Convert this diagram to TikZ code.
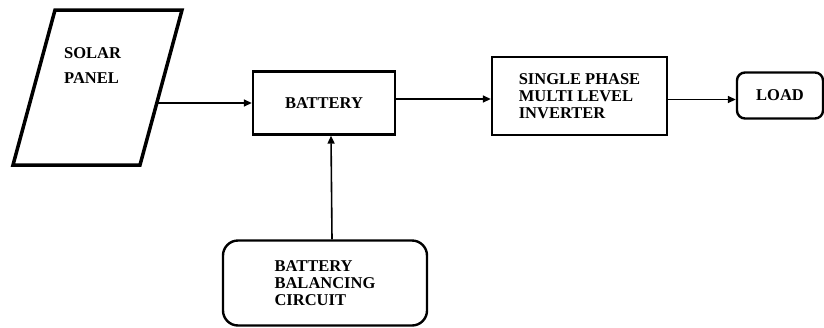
\documentclass[tikz,border=0pt]{standalone}
\usepackage{fontspec}
\setmainfont{Liberation Serif}
\usetikzlibrary{arrows.meta}

\tikzset{
  block/.style={draw, rectangle, line width=2.4pt, align=left, inner sep=0pt},
  roundblock/.style={block, rounded corners=12pt},
  link/.style={line width=1.6pt, -{Triangle[length=8pt, width=7pt]}},
}

\begin{document}
\begin{tikzpicture}[x=1pt, y=-1pt, font=\bfseries\fontsize{16.5}{17}\selectfont]
    \useasboundingbox (0,0) rectangle (824,327);

    % solar panel drawn as a parallelogram
    \draw[line width=3.5pt] (55,10) -- (182,10) -- (140,165) -- (13,165) -- cycle;
    \node[anchor=north west, align=left, inner sep=0pt] (S) at (64,47) {SOLAR\\[8pt]PANEL};
    \coordinate (Sout) at (157,103);

    \node[block, minimum width=142, minimum height=63] (B) at (324,103) {BATTERY};
    \node[block, minimum width=175, minimum height=78] (I) at (579.5,96) {SINGLE PHASE\\MULTI LEVEL\\INVERTER};
    \node[roundblock, rounded corners=8pt, minimum width=86, minimum height=46] (L) at (780,95.5) {LOAD};
    \node[roundblock, rounded corners=15pt, minimum width=204, minimum height=85] (C) at (325,283) {BATTERY\\BALANCING\\CIRCUIT};

    \draw[link] (Sout) -- (Sout -| B.west);
    \draw[link] ([yshift=4pt]B.east) -- ([yshift=4pt]B.east -| I.west);
    \draw[link] ([yshift=-3.5pt]I.east) -- ([yshift=-3.5pt]I.east -| L.west);
    \draw[link] ([xshift=7pt]C.north) -- ([xshift=7pt]B.south);
\end{tikzpicture}
\end{document}
